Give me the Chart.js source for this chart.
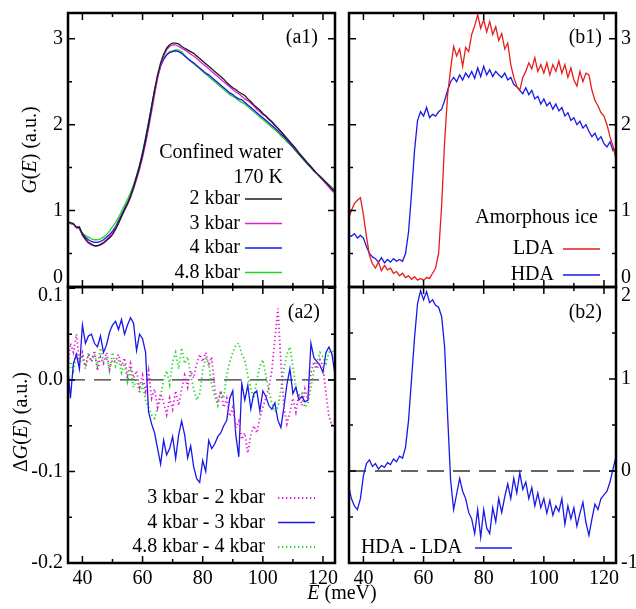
<!DOCTYPE html>
<html>
<head>
<meta charset="utf-8">
<script src="https://cdn.jsdelivr.net/npm/chart.js@4.4.1/dist/chart.umd.min.js"></script>
<style>
  body { margin: 0; background: #fff; }
  #wrap { position: relative; width: 636px; height: 609px; overflow: hidden; }
  #wrap canvas { position: absolute; left: 0; top: 0; }
</style>
</head>
<body>
<div id="wrap">
  <canvas id="a1" width="636" height="609"></canvas>
  <canvas id="b1" width="636" height="609"></canvas>
  <canvas id="a2" width="636" height="609"></canvas>
  <canvas id="b2" width="636" height="609"></canvas>
</div>
<script>
// energy transfer grid (meV), shared by every panel
const energy = [
  35, 36, 37, 38, 39, 40, 41, 42, 43, 44,
  45, 46, 47, 48, 49, 50, 51, 52, 53, 54,
  55, 56, 57, 58, 59, 60, 61, 62, 63, 64,
  65, 66, 67, 68, 69, 70, 71, 72, 73, 74,
  75, 76, 77, 78, 79, 80, 81, 82, 83, 84,
  85, 86, 87, 88, 89, 90, 91, 92, 93, 94,
  95, 96, 97, 98, 99, 100, 101, 102, 103, 104,
  105, 106, 107, 108, 109, 110, 111, 112, 113, 114,
  115, 116, 117, 118, 119, 120, 121, 122, 123, 124,
];

// (a1) G(E) of confined water at 170 K
const water2kbar = [
  0.87, 0.86, 0.85, 0.80, 0.81, 0.72, 0.67, 0.63, 0.61, 0.59,
  0.59, 0.60, 0.62, 0.65, 0.68, 0.72, 0.78, 0.85, 0.93, 1.01,
  1.08, 1.17, 1.27, 1.39, 1.51, 1.65, 1.82, 2.00, 2.20, 2.40,
  2.58, 2.72, 2.82, 2.89, 2.93, 2.95, 2.95, 2.94, 2.91, 2.89,
  2.87, 2.85, 2.83, 2.80, 2.77, 2.74, 2.71, 2.68, 2.65, 2.62,
  2.59, 2.56, 2.53, 2.49, 2.46, 2.43, 2.41, 2.38, 2.36, 2.34,
  2.30, 2.27, 2.23, 2.20, 2.17, 2.13, 2.10, 2.06, 2.03, 1.99,
  1.96, 1.92, 1.88, 1.84, 1.80, 1.76, 1.72, 1.67, 1.63, 1.59,
  1.55, 1.51, 1.47, 1.43, 1.40, 1.36, 1.33, 1.29, 1.25, 1.22,
];
const water3kbar = [
  0.86, 0.85, 0.84, 0.81, 0.79, 0.71, 0.66, 0.62, 0.60, 0.59,
  0.59, 0.61, 0.63, 0.66, 0.70, 0.74, 0.79, 0.86, 0.93, 1.00,
  1.07, 1.15, 1.25, 1.36, 1.48, 1.62, 1.78, 1.96, 2.15, 2.35,
  2.54, 2.69, 2.80, 2.87, 2.91, 2.93, 2.93, 2.91, 2.89, 2.87,
  2.85, 2.82, 2.80, 2.77, 2.74, 2.71, 2.68, 2.65, 2.62, 2.59,
  2.56, 2.53, 2.50, 2.47, 2.44, 2.41, 2.38, 2.36, 2.33, 2.30,
  2.28, 2.25, 2.22, 2.18, 2.15, 2.12, 2.10, 2.07, 2.04, 2.00,
  1.96, 1.92, 1.88, 1.84, 1.80, 1.75, 1.71, 1.67, 1.63, 1.59,
  1.55, 1.51, 1.47, 1.43, 1.39, 1.35, 1.31, 1.27, 1.23, 1.20,
];
const water4kbar = [
  0.86, 0.85, 0.84, 0.81, 0.79, 0.73, 0.69, 0.66, 0.64, 0.63,
  0.63, 0.64, 0.66, 0.69, 0.72, 0.76, 0.81, 0.88, 0.95, 1.02,
  1.09, 1.17, 1.27, 1.39, 1.52, 1.67, 1.84, 2.02, 2.21, 2.40,
  2.56, 2.68, 2.76, 2.81, 2.84, 2.85, 2.86, 2.85, 2.83, 2.80,
  2.77, 2.74, 2.72, 2.69, 2.66, 2.63, 2.60, 2.58, 2.55, 2.52,
  2.49, 2.46, 2.43, 2.40, 2.37, 2.35, 2.32, 2.30, 2.29, 2.26,
  2.23, 2.20, 2.17, 2.14, 2.11, 2.08, 2.05, 2.02, 1.99, 1.96,
  1.93, 1.89, 1.86, 1.82, 1.78, 1.74, 1.70, 1.66, 1.62, 1.58,
  1.54, 1.50, 1.46, 1.43, 1.39, 1.36, 1.32, 1.29, 1.25, 1.22,
];
const water48kbar = [
  0.87, 0.86, 0.84, 0.81, 0.79, 0.74, 0.71, 0.69, 0.67, 0.66,
  0.66, 0.67, 0.69, 0.72, 0.76, 0.81, 0.86, 0.92, 0.99, 1.06,
  1.13, 1.21, 1.30, 1.41, 1.53, 1.68, 1.85, 2.03, 2.22, 2.41,
  2.57, 2.69, 2.77, 2.82, 2.85, 2.86, 2.87, 2.87, 2.85, 2.81,
  2.77, 2.74, 2.71, 2.68, 2.65, 2.62, 2.59, 2.56, 2.53, 2.50,
  2.47, 2.44, 2.41, 2.38, 2.35, 2.33, 2.31, 2.28, 2.26, 2.24,
  2.21, 2.18, 2.15, 2.12, 2.09, 2.06, 2.03, 2.00, 1.97, 1.94,
  1.91, 1.87, 1.84, 1.80, 1.77, 1.73, 1.69, 1.65, 1.61, 1.57,
  1.53, 1.50, 1.46, 1.43, 1.40, 1.37, 1.33, 1.30, 1.27, 1.24,
];

// (b1) G(E) of amorphous ice
const iceLDA = [
  0.90, 1.00, 1.08, 1.12, 1.15, 0.95, 0.70, 0.48, 0.38, 0.33,
  0.40, 0.30, 0.36, 0.31, 0.33, 0.27, 0.29, 0.24, 0.27, 0.22,
  0.24, 0.20, 0.23, 0.19, 0.21, 0.19, 0.22, 0.21, 0.27, 0.33,
  0.50, 1.05, 1.80, 2.35, 2.65, 2.91, 2.80, 2.88, 2.68, 2.90,
  2.85, 3.05, 3.15, 3.28, 3.12, 3.22, 3.08, 3.20, 3.05, 3.14,
  2.98, 3.06, 2.88, 2.95, 2.70, 2.55, 2.45, 2.40, 2.55, 2.62,
  2.72, 2.65, 2.78, 2.62, 2.70, 2.60, 2.72, 2.58, 2.70, 2.62,
  2.74, 2.60, 2.70, 2.55, 2.66, 2.52, 2.45, 2.62, 2.50, 2.60,
  2.58, 2.40, 2.28, 2.22, 2.14, 2.10, 2.00, 1.86, 1.75, 1.60,
];
const iceHDA = [
  0.72, 0.70, 0.73, 0.68, 0.71, 0.68, 0.58, 0.50, 0.46, 0.44,
  0.40, 0.45, 0.39, 0.43, 0.40, 0.44, 0.41, 0.43, 0.41, 0.50,
  0.75, 1.20, 1.70, 2.05, 2.15, 2.10, 2.20, 2.08, 2.12, 2.10,
  2.15, 2.18, 2.28, 2.40, 2.50, 2.55, 2.50, 2.58, 2.52, 2.60,
  2.55, 2.62, 2.54, 2.66, 2.56, 2.68, 2.58, 2.64, 2.56, 2.62,
  2.58, 2.55, 2.60, 2.52, 2.55, 2.47, 2.44, 2.40, 2.36, 2.43,
  2.35, 2.40, 2.30, 2.33, 2.24, 2.30, 2.22, 2.26, 2.18, 2.24,
  2.16, 2.20, 2.10, 2.14, 2.05, 2.08, 2.00, 2.04, 1.96, 2.00,
  1.92, 1.86, 1.90, 1.82, 1.86, 1.78, 1.74, 1.80, 1.70, 1.72,
];

// (a2) differences between successive pressures
const diff3minus2 = [
  0.010, 0.040, 0.030, 0.050, 0.020, 0.030, 0.015, 0.028, 0.020, 0.032,
  0.010, 0.025, 0.018, 0.030, 0.012, 0.022, 0.020, 0.028, 0.015, 0.024,
  0.005, 0.018, 0.002, 0.010, -0.008, 0.005, -0.012, 0.010, -0.020, -0.010,
  -0.030, -0.015, -0.025, -0.038, -0.020, -0.032, -0.012, -0.028, -0.010, 0.005,
  -0.008, 0.010, 0.002, 0.018, 0.028, 0.020, 0.030, 0.015, 0.025, -0.010,
  -0.025, -0.012, -0.030, -0.020, -0.040, -0.030, -0.052, -0.045, -0.065, -0.058,
  -0.080, -0.060, -0.050, -0.058, -0.042, -0.030, -0.020, -0.008, 0.010, 0.045,
  0.078, 0.020, -0.030, -0.048, -0.035, -0.020, -0.035, -0.015, -0.028, -0.010,
  -0.022, 0.008, 0.020, 0.012, 0.022, 0.015, -0.015, -0.040, -0.050, -0.045,
];
const diff4minus3 = [
  0.020, -0.020, 0.018, 0.028, 0.012, 0.060, 0.040, 0.048, 0.050, 0.040,
  0.036, 0.048, 0.030, 0.038, 0.052, 0.060, 0.064, 0.055, 0.066, 0.050,
  0.060, 0.068, 0.062, 0.032, 0.050, 0.045, 0.030, -0.035, -0.048, -0.058,
  -0.075, -0.092, -0.066, -0.082, -0.075, -0.062, -0.086, -0.060, -0.045, -0.060,
  -0.085, -0.072, -0.095, -0.108, -0.112, -0.088, -0.100, -0.066, -0.075, -0.070,
  -0.062, -0.058, -0.050, -0.044, -0.020, -0.012, -0.060, -0.084, -0.004, -0.022,
  -0.006, -0.032, -0.015, -0.012, -0.034, -0.012, -0.018, -0.028, -0.032, -0.025,
  -0.044, -0.052, -0.030, -0.005, 0.012, -0.015, -0.008, -0.022, -0.018, -0.024,
  -0.022, 0.040, 0.024, 0.020, 0.016, 0.008, 0.030, 0.036, 0.028, 0.006,
];
const diff48minus4 = [
  0.000, 0.020, 0.010, 0.030, 0.018, 0.025, 0.012, 0.030, 0.020, 0.028,
  0.015, 0.035, 0.020, 0.025, 0.010, 0.030, 0.015, 0.022, 0.008, 0.018,
  -0.002, 0.010, -0.008, 0.002, -0.015, -0.005, -0.022, -0.030, -0.038, -0.042,
  -0.030, -0.018, 0.000, 0.010, -0.005, 0.020, 0.030, 0.012, 0.035, 0.018,
  0.025, 0.005, -0.010, -0.022, -0.015, 0.010, 0.025, 0.018, -0.005, -0.018,
  -0.028, -0.012, -0.020, 0.005, 0.020, 0.030, 0.038, 0.040, 0.028, 0.022,
  0.005, -0.010, -0.020, 0.000, 0.015, 0.022, 0.005, -0.012, -0.025, -0.035,
  -0.030, -0.010, 0.012, 0.028, 0.036, 0.015, -0.008, -0.020, -0.015, -0.030,
  -0.025, -0.008, 0.010, 0.020, 0.030, 0.025, 0.018, 0.030, 0.032, 0.028,
];

// (b2) HDA minus LDA
const diffHDAminusLDA = [
  -0.15, -0.30, -0.38, -0.42, -0.30, -0.05, 0.08, 0.12, 0.05, 0.08,
  0.02, 0.06, 0.04, 0.09, 0.07, 0.13, 0.10, 0.16, 0.14, 0.26,
  0.55, 1.00, 1.45, 1.82, 1.96, 1.86, 1.95, 1.83, 1.86, 1.80,
  1.78, 1.68, 1.35, 0.60, -0.10, -0.42, -0.25, -0.08, -0.22, -0.30,
  -0.45, -0.52, -0.68, -0.42, -0.72, -0.42, -0.62, -0.68, -0.40, -0.55,
  -0.30, -0.45, -0.28, -0.14, -0.30, -0.08, -0.24, -0.02, -0.20, -0.12,
  -0.30, -0.18, -0.38, -0.24, -0.40, -0.30, -0.46, -0.32, -0.48, -0.38,
  -0.44, -0.30, -0.58, -0.38, -0.52, -0.40, -0.60, -0.46, -0.34, -0.56,
  -0.70, -0.52, -0.36, -0.42, -0.30, -0.26, -0.22, -0.12, 0.02, 0.16,
];

// axis ranges and tick values
const xMin = 35.2, xMax = 124;
const xMajor = [40, 60, 80, 100, 120];
const xMinor = [50, 70, 90, 110];
const gMajor = [0, 1, 2, 3];
const gMinor = [0.5, 1.5, 2.5];
const dgMajor = [-0.2, -0.1, 0, 0.1];
const dgMinor = [-0.15, -0.05, 0.05];
const dhMajor = [-1, 0, 1, 2];
const dhMinor = [-0.5, 0.5, 1.5];

const SERIF = '"Liberation Serif", "Times New Roman", Times, serif';
const FONT_PX = 20;
const fontFor = (italic) => (italic ? "italic " : "") + FONT_PX + "px " + SERIF;

// parts: [[text, italic], ...] drawn as one run
function drawRich(ctx, parts, x, y, align) {
  const widths = parts.map(([t, it]) => {
    ctx.font = fontFor(it);
    return ctx.measureText(t).width;
  });
  const total = widths.reduce((s, w) => s + w, 0);
  let cx = align === "right" ? x - total : align === "center" ? x - total / 2 : x;
  ctx.textAlign = "left";
  ctx.textBaseline = "middle";
  parts.forEach(([t, it], i) => {
    ctx.font = fontFor(it);
    ctx.fillText(t, cx, y);
    cx += widths[i];
  });
}

const panels = {};

// frame, inward ticks on all four sides, tick labels, legend and notes
const panelDecor = {
  id: "panelDecor",
  afterDatasetsDraw(chart) {
    const p = panels[chart.canvas.id];
    if (!p) return;
    const { ctx, chartArea: a } = chart;
    const xs = chart.scales.x;
    const ys = chart.scales.y;
    ctx.save();
    ctx.strokeStyle = "#000";
    ctx.fillStyle = "#000";

    ctx.lineWidth = 1.5;
    ctx.beginPath();
    const xt = [...xMajor.map((v) => [v, 7]), ...xMinor.map((v) => [v, 4])];
    for (const [v, len] of xt) {
      const px = xs.getPixelForValue(v);
      ctx.moveTo(px, a.bottom);
      ctx.lineTo(px, a.bottom - len);
      ctx.moveTo(px, a.top);
      ctx.lineTo(px, a.top + len);
    }
    const yt = [...p.yMajor.map((v) => [v, 7]), ...p.yMinor.map((v) => [v, 4])];
    for (const [v, len] of yt) {
      if (v < ys.min || v > ys.max) continue;
      const py = ys.getPixelForValue(v);
      ctx.moveTo(a.left, py);
      ctx.lineTo(a.left + len, py);
      ctx.moveTo(a.right, py);
      ctx.lineTo(a.right - len, py);
    }
    ctx.stroke();

    ctx.lineWidth = 2.5;
    ctx.strokeRect(a.left, a.top, a.right - a.left, a.bottom - a.top);

    // y tick labels, kept clear of the shared edge between rows
    for (const v of p.yMajor) {
      let py = ys.getPixelForValue(v);
      if (p.row === "top") py = Math.min(py, a.bottom - 9);
      else py = Math.max(py, a.top + 9);
      const txt = v.toFixed(p.digits);
      if (p.labelSide === "left") drawRich(ctx, [[txt, false]], a.left - 5, py, "right");
      else drawRich(ctx, [[txt, false]], a.right + 5, py, "left");
    }

    if (p.row === "bottom") {
      for (const v of xMajor) {
        drawRich(ctx, [[String(v), false]], xs.getPixelForValue(v), a.bottom + 16, "center");
      }
    }

    // legend: label then a line sample in the dataset's own style
    const lg = p.legend;
    lg.items.forEach((idx, k) => {
      const ds = chart.data.datasets[idx];
      const y = lg.y + k * lg.step;
      drawRich(ctx, [[ds.label, false]], lg.textRight, y, "right");
      ctx.save();
      ctx.strokeStyle = ds.borderColor;
      ctx.lineWidth = ds.borderWidth;
      ctx.setLineDash(ds.borderDash || []);
      ctx.beginPath();
      ctx.moveTo(lg.lineLeft, y);
      ctx.lineTo(lg.lineRight, y);
      ctx.stroke();
      ctx.restore();
    });

    for (const n of p.notes) {
      if (n.rotate) {
        ctx.save();
        ctx.translate(n.x, n.y);
        ctx.rotate(-Math.PI / 2);
        drawRich(ctx, n.parts, 0, 0, "center");
        ctx.restore();
      } else {
        drawRich(ctx, n.parts, n.x, n.y, n.align);
      }
    }
    ctx.restore();
  },
};
Chart.register(panelDecor);

const toPoints = (ys) => energy.map((e, i) => ({ x: e, y: ys[i] }));

const line = (label, values, color, extra) =>
  Object.assign(
    {
      label,
      data: toPoints(values),
      borderColor: color,
      borderWidth: 1.3,
      pointRadius: 0,
      fill: false,
      tension: 0,
    },
    extra || {}
  );

const zeroLine = () => ({
  label: "",
  data: [
    { x: xMin, y: 0 },
    { x: xMax, y: 0 },
  ],
  borderColor: "#333",
  borderWidth: 1.3,
  borderDash: [17, 9],
  pointRadius: 0,
});

// gnuplot-style dotted stroke
const dotted = { borderDash: [1.3, 2.7], borderWidth: 1.8, borderCapStyle: "butt" };

function makeChart(id, area, yMin, yMax, datasets) {
  new Chart(document.getElementById(id), {
    type: "line",
    data: { datasets },
    options: {
      responsive: false,
      animation: false,
      devicePixelRatio: 1,
      layout: {
        padding: { left: area.left, top: area.top, right: 636 - area.right, bottom: 609 - area.bottom },
      },
      plugins: { legend: { display: false }, tooltip: { enabled: false } },
      scales: {
        x: { type: "linear", min: xMin, max: xMax, display: false },
        y: { type: "linear", min: yMin, max: yMax, display: false },
      },
    },
  });
}

const BLACK = "#1c1c1c", MAGENTA = "#e21cd6", BLUE = "#1818e8", GREEN = "#1fd81f", RED = "#e81c1c";

panels.a1 = {
  row: "top", labelSide: "left", digits: 0, yMajor: gMajor, yMinor: gMinor,
  legend: { items: [0, 1, 2, 3], textRight: 240, lineLeft: 245, lineRight: 282, y: 199, step: 24.5 },
  notes: [
    { parts: [["(a1)", false]], x: 318, y: 38, align: "right" },
    { parts: [["Confined water", false]], x: 283, y: 153, align: "right" },
    { parts: [["170 K", false]], x: 283, y: 178, align: "right" },
    { parts: [["G", true], ["(", false], ["E", true], [") (a.u.)", false]], x: 31, y: 150, rotate: true },
  ],
};
panels.b1 = {
  row: "top", labelSide: "right", digits: 0, yMajor: gMajor, yMinor: gMinor,
  legend: { items: [0, 1], textRight: 554, lineLeft: 563, lineRight: 600, y: 249, step: 26 },
  notes: [
    { parts: [["(b1)", false]], x: 602, y: 38, align: "right" },
    { parts: [["Amorphous ice", false]], x: 598, y: 218, align: "right" },
  ],
};
panels.a2 = {
  row: "bottom", labelSide: "left", digits: 1, yMajor: dgMajor, yMinor: dgMinor,
  legend: { items: [0, 1, 2], textRight: 265, lineLeft: 278, lineRight: 315, y: 498, step: 24.5 },
  notes: [
    { parts: [["(a2)", false]], x: 320, y: 313, align: "right" },
    { parts: [["\u0394", false], ["G", true], ["(", false], ["E", true], [") (a.u.)", false]], x: 22, y: 422, rotate: true },
    { parts: [["E", true], [" (meV)", false]], x: 342, y: 594, align: "center" },
  ],
};
panels.b2 = {
  row: "bottom", labelSide: "right", digits: 0, yMajor: dhMajor, yMinor: dhMinor,
  legend: { items: [0], textRight: 462, lineLeft: 475, lineRight: 512, y: 548, step: 0 },
  notes: [{ parts: [["(b2)", false]], x: 602, y: 313, align: "right" }],
};

makeChart("a1", { left: 68, right: 335, top: 13, bottom: 287 }, 0.11, 3.3, [
  line("2 kbar", water2kbar, BLACK),
  line("3 kbar", water3kbar, MAGENTA),
  line("4 kbar", water4kbar, BLUE),
  line("4.8 kbar", water48kbar, GREEN),
]);

makeChart("b1", { left: 349, right: 616, top: 13, bottom: 287 }, 0.11, 3.3, [
  line("LDA", iceLDA, RED),
  line("HDA", iceHDA, BLUE),
]);

makeChart("a2", { left: 68, right: 335, top: 287, bottom: 563 }, -0.2, 0.1015, [
  line("3 kbar - 2 kbar", diff3minus2, MAGENTA, dotted),
  line("4 kbar - 3 kbar", diff4minus3, BLUE),
  line("4.8 kbar - 4 kbar", diff48minus4, GREEN, dotted),
  zeroLine(),
]);

makeChart("b2", { left: 349, right: 616, top: 287, bottom: 563 }, -1, 2, [
  line("HDA - LDA", diffHDAminusLDA, BLUE),
  zeroLine(),
]);
</script>
</body>
</html>
